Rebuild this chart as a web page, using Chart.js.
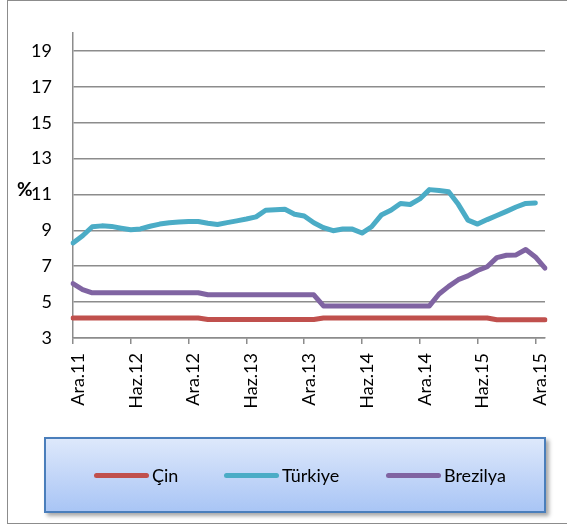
<!DOCTYPE html>
<html>
<head>
<meta charset="utf-8">
<script src="https://cdn.jsdelivr.net/npm/chart.js@4.4.1/dist/chart.umd.min.js"></script>
<style>
  html, body { margin: 0; padding: 0; background: #fff; overflow: hidden; }
  #wrap { position: relative; width: 567px; height: 527px; font-family: Lato, "Open Sans", sans-serif; }
  #frame { position: absolute; left: 7px; top: 0px; width: 600px; height: 524px; border: 1.5px solid #8c8c8c; box-sizing: border-box; }
  #barChart { position: absolute; left: 0; top: 0; }
  #pct { position: absolute; left: 17px; top: 179px; font-size: 19px; font-weight: bold; line-height: 1; color: #000; }
  #legendBox { position: absolute; left: 44px; top: 437px; width: 502px; height: 76px; box-sizing: border-box;
    border: 2px solid #4a7ebb; background: linear-gradient(#dde8fb, #a9c5f5);
    box-shadow: 3px 3px 4px rgba(0,0,0,0.35); }
  .leg { position: absolute; top: 0; height: 72px; display: flex; align-items: center; font-size: 18px; color: #000; }
  .leg i { display: inline-block; width: 55px; height: 5px; border-radius: 3px; margin-right: 3px; }
</style>
</head>
<body>
<div id="wrap">
  <div id="frame"></div>
  <canvas id="barChart" width="567" height="527"></canvas>
  <div id="pct">%</div>
  <div id="legendBox">
    <div class="leg" style="left:48px"><i style="background:#c0504d"></i>Çin</div>
    <div class="leg" style="left:178px"><i style="background:#4bacc6"></i>Türkiye</div>
    <div class="leg" style="left:340px"><i style="background:#8064a2"></i>Brezilya</div>
  </div>
</div>
<script>
  // months Ara.11 .. Oca.16
  var monthLabels = [
    "Ara.11",
    "Oca.12","Şub.12","Mar.12","Nis.12","May.12","Haz.12","Tem.12","Ağu.12","Eyl.12","Eki.12","Kas.12","Ara.12",
    "Oca.13","Şub.13","Mar.13","Nis.13","May.13","Haz.13","Tem.13","Ağu.13","Eyl.13","Eki.13","Kas.13","Ara.13",
    "Oca.14","Şub.14","Mar.14","Nis.14","May.14","Haz.14","Tem.14","Ağu.14","Eyl.14","Eki.14","Kas.14","Ara.14",
    "Oca.15","Şub.15","Mar.15","Nis.15","May.15","Haz.15","Tem.15","Ağu.15","Eyl.15","Eki.15","Kas.15","Ara.15",
    "Oca.16"];

  var seriesNames = ["Çin", "Türkiye", "Brezilya"];

  var cinData = [
    4.11,4.11,4.11,4.11,4.11,4.11,4.11,4.11,4.11,4.11,4.11,4.11,4.11,4.11,
    4.03,4.03,4.03,4.03,4.03,4.03,4.03,4.03,4.03,4.03,4.03,4.03,
    4.11,4.11,4.11,4.11,4.11,4.11,4.11,4.11,4.11,4.11,4.11,4.11,4.11,4.11,4.11,4.11,4.11,4.11,
    4.02,4.02,4.02,4.02,4.02,4.02];

  var turkiyeData = [
    8.3,8.7,9.2,9.25,9.22,9.12,9.03,9.08,9.23,9.35,9.42,9.46,9.5,
    9.49,9.4,9.33,9.43,9.53,9.63,9.75,10.12,10.15,10.18,9.9,9.8,
    9.42,9.15,8.98,9.08,9.07,8.85,9.2,9.85,10.12,10.5,10.44,10.75,
    11.27,11.22,11.15,10.45,9.57,9.35,9.6,9.83,10.06,10.3,10.5,10.53,
    null];

  var brezilyaData = [
    6.03,5.7,
    5.52,5.52,5.52,5.52,5.52,5.52,5.52,5.52,5.52,5.52,5.52,5.52,
    5.41,5.41,5.41,5.41,5.41,5.41,5.41,5.41,5.41,5.41,5.41,5.41,
    4.79,4.79,4.79,4.79,4.79,4.79,4.79,4.79,4.79,4.79,4.79,4.79,
    5.45,5.88,6.25,6.46,6.76,6.97,7.48,7.61,7.63,7.93,7.52,6.9];

  var yTickValues = [3, 5, 7, 9, 11, 13, 15, 17, 19];
  var yAxisMin = 3;
  var yAxisMax = 20;

  var colorArray = ['#c0504d', '#4bacc6', '#8064a2'];
  var gridColor = '#8c8c8c';

  // start line chart
  function makeDataset(i, data) {
    return {
      label: seriesNames[i],
      data: data,
      borderColor: colorArray[i],
      backgroundColor: colorArray[i],
      borderWidth: 5,
      borderCapStyle: 'round',
      borderJoinStyle: 'round',
      pointRadius: 0,
      tension: 0,
      fill: false
    };
  }

  var lineData = {
    labels: monthLabels,
    datasets: [
      makeDataset(0, cinData),
      makeDataset(1, turkiyeData),
      makeDataset(2, brezilyaData)
    ]
  };

  var lineOptions = {
    responsive: false,
    animation: false,
    layout: { padding: { left: 0, right: 22, top: 33, bottom: 0 } },
    plugins: { legend: { display: false }, tooltip: { enabled: false } },
    scales: {
      x: {
        offset: false,
        grid: {
          drawOnChartArea: false,
          drawTicks: true,
          tickLength: 6,
          lineWidth: 1.5,
          color: 'rgba(0,0,0,0)',
          tickColor: function(c) { return c.index % 6 === 0 ? gridColor : 'rgba(0,0,0,0)'; }
        },
        border: { color: gridColor, width: 1.5 },
        ticks: {
          autoSkip: false,
          minRotation: 90,
          maxRotation: 90,
          padding: 9,
          labelOffset: 5,
          color: '#000',
          font: { family: 'Lato', size: 18 },
          callback: function(val, i) { return i % 6 === 0 ? this.getLabelForValue(val) : ''; }
        },
        afterFit: function(scale) {
          scale.height = 189;
          scale.paddingLeft = 0;
          scale.paddingRight = 0;
        }
      },
      y: {
        min: yAxisMin,
        max: yAxisMax,
        grid: { color: gridColor, lineWidth: 1.5, drawTicks: false },
        border: { color: gridColor, width: 1.5 },
        ticks: {
          padding: 21,
          color: '#000',
          font: { family: 'Lato', size: 18 }
        },
        afterBuildTicks: function(scale) {
          scale.ticks = yTickValues.map(function(v) { return { value: v }; });
        },
        afterFit: function(scale) { scale.width = 73; }
      }
    }
  };

  var ctx2 = document.getElementById("barChart").getContext("2d");
  var chart = new Chart(ctx2, { type: 'line', data: lineData, options: lineOptions });
  // end line chart
</script>
</body>
</html>
